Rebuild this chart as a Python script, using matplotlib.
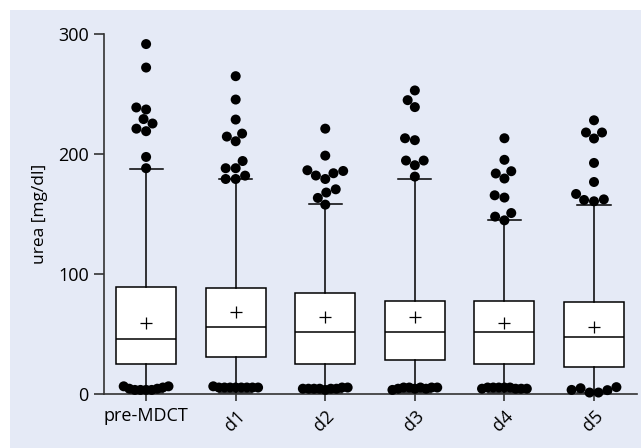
import numpy as np
import matplotlib
matplotlib.use("Agg")
import matplotlib.pyplot as plt
from matplotlib.patches import Rectangle

plt.rcParams['font.family'] = ['Open Sans', 'DejaVu Sans']

# ---- data ----
groups = ['pre-MDCT', 'd1', 'd2', 'd3', 'd4', 'd5']
q1 = [25, 30.6, 25, 28.2, 25, 21.7]
median = [45.4, 55.4, 51, 51, 51, 47.3]
q3 = [88.6, 88.3, 84, 76.9, 76.9, 76]
mean = [58.7, 67.9, 63.7, 63.7, 59, 55.4]
whisk_hi = [187, 179, 158, 179, 144.5, 157.3]
whisk_lo = [0.5, 0.5, 0.5, 0.5, 0.5, 0.5]

high_outliers = [
    [291.6, 272, 237, 238.7, 229, 225.3, 218.9, 221, 197.4, 188],
    [264.8, 245.3, 228.6, 214.4, 216.9, 210.5, 194, 188, 188, 179, 179, 181.8],
    [221, 198.5, 185.7, 181.9, 179, 183.8, 186.3, 170.4, 167.7, 163.2, 157.6],
    [252.9, 244.8, 239, 213, 211.4, 194.4, 194.4, 190.5, 181],
    [213, 195, 183.6, 185.5, 179.4, 163.5, 165.4, 147.6, 150.6, 144.5],
    [228, 217.8, 217.8, 212.8, 192.4, 176.5, 162, 161.5, 160.4, 166.5],
]
low_outliers = [
    [6, 4, 3, 3, 3, 3, 4, 5, 6],
    [6, 5, 5, 5, 5, 5, 5, 5, 5],
    [4, 4, 4, 4, 3, 4, 4, 5, 5],
    [3, 4, 5, 5, 4, 5, 4, 5, 5],
    [4, 5, 5, 5, 5, 5, 4, 4, 4],
    [3, 4.4, 0.8, 0.8, 2.8, 5.3],
]

y_ticks = [0, 100, 200, 300]
y_label = 'urea [mg/dl]'

# ---- layout ----
W, H, DPI = 641, 448, 100
fig = plt.figure(figsize=(W / DPI, H / DPI), dpi=DPI, facecolor='white')
bg = '#E5EAF6'
fig.patches.append(Rectangle((10 / W, 0), 1 - 10 / W, 1 - 10 / H, transform=fig.transFigure,
                             facecolor=bg, edgecolor='none', zorder=-10))

ax = fig.add_axes([104 / W, (H - 393.5) / H, (637 - 104) / W, (393.5 - 34) / H])
ax.set_zorder(5)
ax.set_facecolor('none')
ax.set_xlim(-0.47, 5.48)
ax.set_ylim(0, 300)

px_x = (637 - 104) / (5.48 + 0.47)  # pixels per x unit
px_y = (393.5 - 34) / 300           # pixels per y unit
dot_d = 10.0                        # dot diameter in px


def swarm(values, d=dot_d):
    """simple beeswarm: offsets in data x units"""
    placed = []
    out = [0.0] * len(values)
    order = np.argsort(values)
    for i in order:
        y = values[i] * px_y
        cands = [0.0]
        for (xj, yj) in placed:
            dy = abs(y - yj)
            if dy < d:
                dx = np.sqrt(d * d - dy * dy)
                cands += [xj - dx, xj + dx]
        cands = sorted(cands, key=lambda c: (abs(c), c))
        for c in cands:
            ok = all((c - xj) ** 2 + (y - yj) ** 2 >= d * d * 0.97 for (xj, yj) in placed)
            if ok:
                placed.append((c, y))
                out[i] = c / px_x
                break
    return out


stats = []
for i, g in enumerate(groups):
    stats.append(dict(label=g, q1=q1[i], med=median[i], q3=q3[i], mean=mean[i],
                      whislo=whisk_lo[i], whishi=whisk_hi[i], fliers=[]))

pos = np.arange(len(groups))
ax.bxp(stats, positions=pos, widths=0.67, capwidths=0.37, showmeans=True, patch_artist=True,
       boxprops=dict(facecolor='white', edgecolor='black', linewidth=1.1),
       medianprops=dict(color='black', linewidth=1.1),
       whiskerprops=dict(color='black', linewidth=1.1),
       capprops=dict(color='black', linewidth=1.1),
       meanprops=dict(marker='+', markeredgecolor='black', markersize=9, markeredgewidth=0.9),
       zorder=2)

for i in range(len(groups)):
    xo = swarm(high_outliers[i])
    ax.scatter(pos[i] + np.array(xo), high_outliers[i], s=(dot_d * 72 / DPI) ** 2,
               color='black', edgecolors='none', zorder=3, clip_on=False)
    lo = low_outliers[i]
    ax.scatter(pos[i] + np.linspace(-0.25, 0.25, len(lo)), lo, s=(dot_d * 72 / DPI) ** 2,
               color='black', edgecolors='none', zorder=3, clip_on=False)

ax.spines['top'].set_visible(False)
ax.spines['right'].set_visible(False)
for s in ['left', 'bottom']:
    ax.spines[s].set_color('#333333')
    ax.spines[s].set_linewidth(1.2)

ax.set_yticks(y_ticks)
ax.tick_params(axis='y', length=7, width=1.2, color='#333333', labelsize=13, pad=4)
ax.tick_params(axis='x', length=5, width=1.2, color='#333333', labelsize=13, pad=5)
ax.set_xticks(pos)
ax.set_xticklabels(groups)
for k, t in enumerate(ax.get_xticklabels()):
    if k > 0:
        t.set_rotation(45)
        t.set_ha('right')
        t.set_va('top')
        t.set_rotation_mode('anchor')
ax.set_ylabel(y_label, fontsize=12.5, labelpad=7)

fig.savefig('out.png', dpi=DPI, facecolor='white')
